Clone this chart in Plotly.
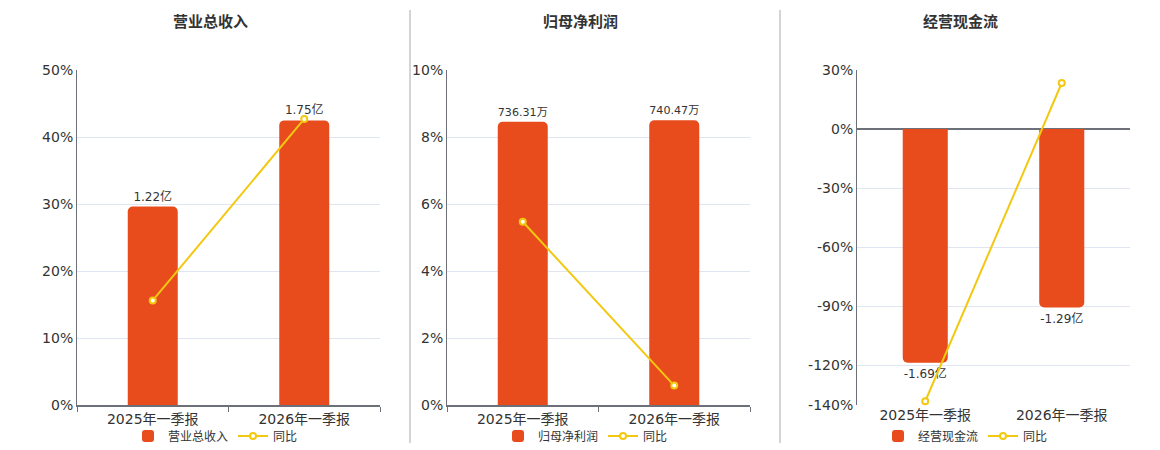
import plotly.graph_objects as go

periods = ["2025年一季报", "2026年一季报"]

revenue = [1.22, 1.75]          # 亿
revenue_labels = ["1.22亿", "1.75亿"]
revenue_yoy = [15.6, 42.7]      # %

profit = [736.31, 740.47]       # 万
profit_labels = ["736.31万", "740.47万"]
profit_yoy = [5.47, 0.58]

cashflow = [-1.69, -1.29]       # 亿
cashflow_labels = ["-1.69亿", "-1.29亿"]
cashflow_yoy = [-138.1, 23.4]

titles = ["营业总收入", "归母净利润", "经营现金流"]

BAR = "#e84b1c"
LINE = "#f2c811"
AXIS = "#6e7079"
GRID = "#e0e6f1"
TEXT = "#333333"
FONT = "DejaVu Sans, Noto Sans CJK SC"

W, H = 1160, 450


def px_x(v):
    return v / W


def px_y(v):
    return (H - v) / H


panels = [
    dict(name=titles[0], bars=revenue, labels=revenue_labels, yoy=revenue_yoy,
         dom=(77, 380), yrange=[0, 50], tickvals=[0, 10, 20, 30, 40, 50], barrange=[0, 2.06],
         title_x=210, legend_x=128),
    dict(name=titles[1], bars=profit, labels=profit_labels, yoy=profit_yoy,
         dom=(447, 750), yrange=[0, 10], tickvals=[0, 2, 4, 6, 8, 10], barrange=[0, 871],
         title_x=580, legend_x=498),
    dict(name=titles[2], bars=cashflow, labels=cashflow_labels, yoy=cashflow_yoy,
         dom=(857, 1130), yrange=[-140, 30], tickvals=[30, 0, -30, -60, -90, -120, -140],
         barrange=[-1.995, 0.4275], title_x=960, legend_x=878),
]

fig = go.Figure()
layout = {}
annotations = []
shapes = []

for i, p in enumerate(panels):
    n = i + 1
    xa = "x" if n == 1 else f"x{n}"
    yb = 2 * n - 1          # bar axis (base, hidden)
    yl = 2 * n              # line axis (overlay, visible)
    yb_name = "y" if yb == 1 else f"y{yb}"
    yl_name = f"y{yl}"
    leg = "legend" if n == 1 else f"legend{n}"

    fig.add_trace(go.Bar(
        x=periods, y=p["bars"], name=p["name"], text=p["labels"],
        textposition="outside", cliponaxis=False,
        textfont=dict(size=12, color=TEXT, family=FONT),
        marker=dict(color=BAR, line=dict(width=0)), width=0.33,
        xaxis=xa, yaxis=yb_name, legend=leg, hoverinfo="skip",
    ))
    fig.add_trace(go.Scatter(
        x=periods, y=p["yoy"], name="同比", mode="lines+markers",
        line=dict(color=LINE, width=2),
        marker=dict(size=6, color="white", line=dict(color=LINE, width=2)),
        cliponaxis=False, xaxis=xa, yaxis=yl_name, legend=leg,
    ))

    neg = p["yrange"][0] < 0
    layout["xaxis" if n == 1 else f"xaxis{n}"] = dict(
        domain=[px_x(p["dom"][0]), px_x(p["dom"][1])], anchor=yb_name, automargin=False,
        type="category", showline=not neg, linecolor=AXIS, linewidth=2,
        ticks="" if neg else "outside", tickson="boundaries", ticklen=5, tickcolor=AXIS,
        tickfont=dict(size=14, color=TEXT, family=FONT), showgrid=False,
    )
    layout["yaxis" if yb == 1 else f"yaxis{yb}"] = dict(
        domain=[px_y(405), px_y(70)], anchor=xa, range=p["barrange"], automargin=False,
        visible=False, showgrid=False, zeroline=False,
    )
    layout[f"yaxis{yl}"] = dict(
        domain=[px_y(405), px_y(70)], anchor=xa, overlaying=yb_name, side="left",
        range=p["yrange"], tickmode="array", tickvals=p["tickvals"], automargin=False,
        ticktext=[f"{v}%" for v in p["tickvals"]],
        showline=True, linecolor=AXIS, linewidth=1, showgrid=True, gridcolor=GRID,
        zeroline=neg, zerolinecolor=AXIS, zerolinewidth=2,
        tickfont=dict(size=14, color=TEXT, family=FONT), ticks="",
    )
    layout[leg] = dict(
        orientation="h", x=px_x(p["legend_x"]), y=px_y(436), xanchor="left", yanchor="middle",
        font=dict(size=12, color=TEXT, family=FONT), bgcolor="rgba(0,0,0,0)",
        itemwidth=30, tracegroupgap=0,
    )
    annotations.append(dict(
        text=f"<b>{p['name']}</b>", x=px_x(p["title_x"]), y=px_y(22), xref="paper", yref="paper",
        xanchor="center", yanchor="middle",
        showarrow=False, font=dict(size=15, color=TEXT, family=FONT),
    ))

for sx in (410, 780):
    shapes.append(dict(type="line", xref="paper", yref="paper",
                       x0=px_x(sx), x1=px_x(sx), y0=px_y(443), y1=px_y(10),
                       line=dict(color="#aaaaaa", width=1)))

fig.update_layout(
    width=W, height=H, margin=dict(l=0, r=0, t=0, b=0, autoexpand=False),
    paper_bgcolor="white", plot_bgcolor="white",
    barcornerradius=5, annotations=annotations, shapes=shapes,
    font=dict(family=FONT, color=TEXT),
    **layout,
)

fig.write_html("out.html", config={"displayModeBar": False},
               post_script="document.body.style.margin='0';document.body.style.overflow='hidden';")
